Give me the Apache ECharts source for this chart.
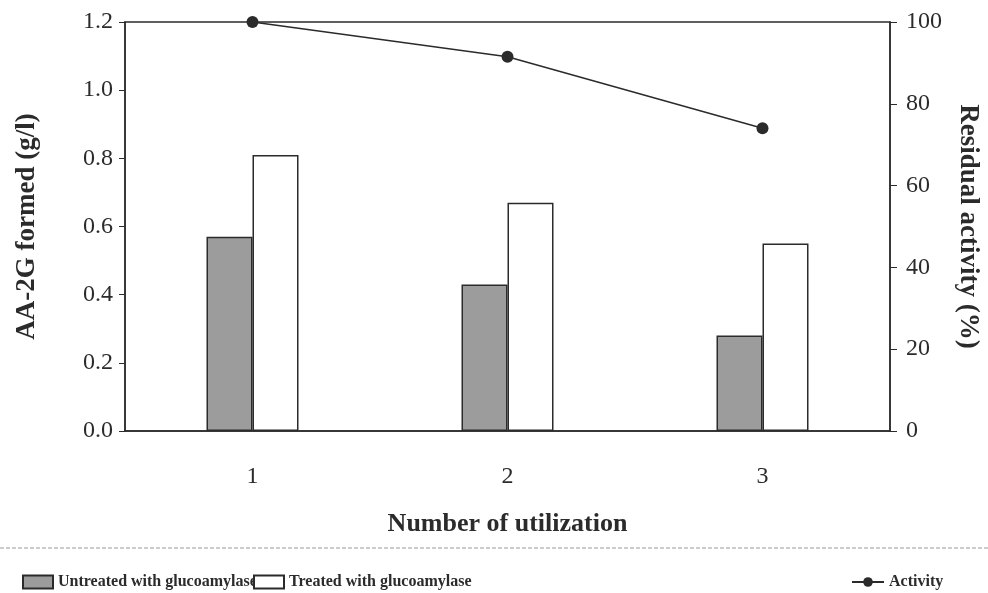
<!DOCTYPE html>
<html>
<head>
<meta charset="utf-8">
<script src="https://cdn.jsdelivr.net/npm/echarts@6/dist/echarts.min.js"></script>
<style>
  html, body { margin: 0; padding: 0; background: #fff; }
  #chart { width: 988px; height: 593px; }
</style>
</head>
<body>
<div id="chart"></div>
<script>
// data
const categories = ['1', '2', '3'];
const untreated = [0.57, 0.43, 0.28];
const treated = [0.81, 0.67, 0.55];
const activity = [100, 91.5, 74];
const leftTicks = { min: 0, max: 1.2, step: 0.2 };
const rightTicks = { min: 0, max: 100, step: 20 };

const serif = 'Liberation Serif';
const ink = '#2b2b2b';

const chart = echarts.init(document.getElementById('chart'), null, { renderer: 'canvas' });

const legendText = { fontFamily: serif, fontWeight: 'bold', fontSize: 16, color: ink };

chart.setOption({
  backgroundColor: '#fff',
  animation: false,
  grid: {
    left: 125, right: 98, top: 22, bottom: 162,
    outerBoundsMode: 'none',
    containLabel: false,
    show: true, borderColor: ink, borderWidth: 1.5, backgroundColor: 'transparent'
  },
  legend: [
    { data: ['Untreated with glucoamylase'], icon: 'rect', left: 17, top: 569, itemWidth: 30, itemHeight: 13, textStyle: legendText },
    { data: ['Treated with glucoamylase'], icon: 'rect', left: 248, top: 569, itemWidth: 30, itemHeight: 13, textStyle: legendText },
    { data: ['Activity'], left: 846, top: 569, itemWidth: 32, itemHeight: 12, textStyle: legendText }
  ],
  graphic: [{
    type: 'line',
    shape: { x1: 0, y1: 548, x2: 988, y2: 548 },
    style: { stroke: '#9a9a9a', lineWidth: 1, lineDash: [4, 2] }
  }],
  xAxis: {
    type: 'category',
    data: categories,
    axisLine: { lineStyle: { color: ink, width: 1.5 } },
    axisTick: { show: false },
    axisLabel: { fontFamily: serif, fontSize: 24, color: ink, margin: 34 },
    name: 'Number of utilization',
    nameLocation: 'middle',
    nameGap: 80,
    nameTextStyle: { fontFamily: serif, fontWeight: 'bold', fontSize: 26, color: ink }
  },
  yAxis: [
    {
      type: 'value',
      min: leftTicks.min, max: leftTicks.max, interval: leftTicks.step,
      axisLine: { show: true, lineStyle: { color: ink, width: 1.5 } },
      axisTick: { show: true, length: 6, lineStyle: { color: ink } },
      splitLine: { show: false },
      axisLabel: {
        fontFamily: serif, fontSize: 24, color: ink, margin: 12,
        formatter: v => v.toFixed(1)
      },
      name: 'AA-2G formed (g/l)',
      nameLocation: 'middle',
      nameGap: 84,
      nameTextStyle: { fontFamily: serif, fontWeight: 'bold', fontSize: 27, color: ink }
    },
    {
      type: 'value',
      position: 'right',
      min: rightTicks.min, max: rightTicks.max, interval: rightTicks.step,
      axisLine: { show: true, lineStyle: { color: ink, width: 1.5 } },
      axisTick: { show: true, length: 7, lineStyle: { color: ink } },
      splitLine: { show: false },
      axisLabel: { fontFamily: serif, fontSize: 24, color: ink, margin: 16 },
      name: 'Residual activity (%)',
      nameLocation: 'middle',
      nameRotate: -90,
      nameGap: 64,
      nameTextStyle: { fontFamily: serif, fontWeight: 'bold', fontSize: 27, color: ink }
    }
  ],
  series: [
    {
      name: 'Untreated with glucoamylase',
      type: 'bar',
      data: untreated,
      barWidth: 46,
      barGap: '0%',
      itemStyle: { color: '#9c9c9c', borderColor: ink, borderWidth: 1.5 }
    },
    {
      name: 'Treated with glucoamylase',
      type: 'bar',
      data: treated,
      barWidth: 46,
      barGap: '0%',
      itemStyle: { color: '#fff', borderColor: ink, borderWidth: 1.5 }
    },
    {
      name: 'Activity',
      type: 'line',
      yAxisIndex: 1,
      data: activity,
      symbol: 'circle',
      symbolSize: 12,
      lineStyle: { color: ink, width: 1.5 },
      itemStyle: { color: ink },
      z: 5
    }
  ]
});
</script>
</body>
</html>
